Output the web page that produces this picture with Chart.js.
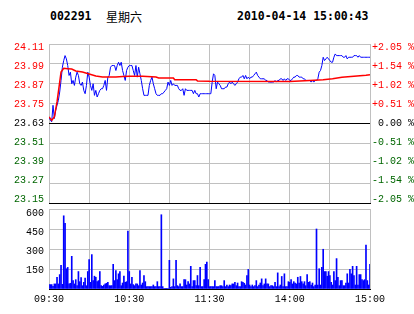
<!DOCTYPE html>
<html>
<head>
<meta charset="utf-8">
<script src="https://cdn.jsdelivr.net/npm/chart.js@4.4.1/dist/chart.umd.min.js"></script>
<style>
  body { margin: 0; background: #fff; }
  #wrap { position: relative; width: 414px; height: 314px; overflow: hidden; background: #fff; }
  canvas { position: absolute; left: 0; }
  .hd { position: absolute; top: 9px; line-height: 14px; font: bold 11.5px "DejaVu Sans Mono", monospace; color: #000; white-space: pre; }
  .day { position: absolute; top: 8px; left: 106px; line-height: 14px; font: 12px "Noto Sans CJK SC", sans-serif; color: #000; }
</style>
</head>
<body>
<div id="wrap">
  <div class="hd" style="left:50px">002291</div>
  <div class="day">星期六</div>
  <div class="hd" style="left:237px">2010-04-14 15:00:43</div>
  <canvas id="price" width="414" height="210" style="top:0"></canvas>
  <canvas id="vol" width="414" height="110" style="top:204px"></canvas>
</div>
<script>
// Data (minutes from 09:30, 0..240; 120 = 11:30/13:00)
var prevClose = 23.63;
var priceTicks = [23.15, 23.27, 23.39, 23.51, 23.63, 23.75, 23.87, 23.99, 24.11];
var pctLabels = ['-2.05 %', '-1.54 %', '-1.02 %', '-0.51 %', ' 0.00 %', '+0.51 %', '+1.02 %', '+1.54 %', '+2.05 %'];
var volTicks = [0, 150, 300, 450, 600];
var timeGridMinutes = [0, 30, 60, 90, 120, 150, 180, 210, 240];
var timeTickMinutes = [0, 60, 120, 180, 240];
var timeTickLabels = ['09:30', '10:30', '11:30', '14:00', '15:00'];

var prices = [
    23.67, 23.65, 23.64, 23.74, 23.66, 23.71, 23.74, 23.77, 23.82, 23.89,
    23.97, 24.01, 24.04, 24.02, 23.98, 23.92, 23.94, 23.87, 23.89, 23.86,
    23.91, 23.94, 23.92, 23.87, 23.86, 23.88, 23.83, 23.81, 23.86, 23.94,
    23.91, 23.86, 23.83, 23.87, 23.80, 23.83, 23.79, 23.81, 23.83, 23.84,
    23.84, 23.86, 23.89, 23.83, 23.91, 23.92, 23.97, 23.98, 23.98, 23.98,
    23.95, 23.98, 24.00, 23.98, 24.00, 23.95, 23.92, 23.89, 23.95, 23.97,
    23.98, 23.98, 23.98, 23.95, 23.92, 23.98, 23.91, 23.97, 23.93, 23.89,
    23.84, 23.80, 23.80, 23.80, 23.80, 23.86, 23.89, 23.91, 23.87, 23.84,
    23.81, 23.80, 23.80, 23.80, 23.81, 23.81, 23.82, 23.83, 23.84, 23.88,
    23.86, 23.89, 23.86, 23.87, 23.86, 23.86, 23.86, 23.84, 23.83, 23.83,
    23.84, 23.80, 23.84, 23.83, 23.83, 23.83, 23.83, 23.83, 23.81, 23.83,
    23.81, 23.81, 23.79, 23.81, 23.81, 23.81, 23.81, 23.81, 23.81, 23.81,
    23.81, 23.81, 23.88, 23.93, 23.92, 23.84, 23.88, 23.87, 23.86, 23.84,
    23.84, 23.84, 23.85, 23.85, 23.87, 23.88, 23.87, 23.88, 23.87, 23.86,
    23.87, 23.88, 23.90, 23.91, 23.91, 23.92, 23.90, 23.92, 23.90, 23.91,
    23.90, 23.91, 23.91, 23.92, 23.93, 23.94, 23.92, 23.91, 23.90, 23.90,
    23.90, 23.90, 23.89, 23.89, 23.88, 23.88, 23.88, 23.88, 23.88, 23.89,
    23.88, 23.89, 23.89, 23.90, 23.90, 23.89, 23.90, 23.89, 23.90, 23.90,
    23.89, 23.89, 23.90, 23.91, 23.91, 23.92, 23.92, 23.91, 23.91, 23.91,
    23.90, 23.90, 23.89, 23.89, 23.89, 23.89, 23.88, 23.89, 23.88, 23.89,
    23.89, 23.90, 23.94, 23.95, 23.98, 24.03, 24.01, 24.02, 24.03, 24.02,
    24.01, 24.00, 24.00, 24.03, 24.05, 24.04, 24.04, 24.04, 24.04, 24.04,
    24.03, 24.03, 24.04, 24.02, 24.03, 24.03, 24.03, 24.03, 24.04, 24.04,
    24.04, 24.03, 24.04, 24.03, 24.03, 24.03, 24.03, 24.03, 24.03, 24.03, 24.03
];

var avgMinutes = [0, 2, 4, 6, 8, 9, 11, 14, 17, 20, 25, 30, 35, 40, 50, 55, 60, 70, 80, 82, 93, 94, 110, 111, 120, 180, 195, 205, 212, 219, 228, 237, 240];
var avgPrices = [23.67, 23.65, 23.67, 23.76, 23.88, 23.94, 23.963, 23.961, 23.959, 23.947, 23.941, 23.929, 23.917, 23.911, 23.911, 23.914, 23.915, 23.915, 23.911, 23.905, 23.905, 23.894, 23.894, 23.887, 23.885, 23.884, 23.89, 23.894, 23.90, 23.909, 23.915, 23.921, 23.925];

var volumes = [
    33, 33, 33, 20, 38, 38, 88, 38, 108, 177,
    35, 549, 493, 152, 162, 38, 43, 245, 63, 38,
    70, 25, 131, 55, 86, 25, 50, 81, 25, 131,
    220, 50, 258, 63, 96, 88, 55, 63, 131, 25,
    20, 30, 38, 43, 50, 25, 25, 25, 185, 63,
    139, 70, 114, 131, 25, 45, 96, 50, 55, 435,
    131, 38, 88, 33, 25, 38, 38, 25, 139, 30,
    45, 101, 55, 18, 18, 18, 18, 18, 30, 18,
    18, 55, 18, 18, 557, 18, 5, 5, 5, 5,
    215, 13, 18, 76, 18, 215, 25, 18, 38, 18,
    18, 70, 70, 30, 55, 38, 170, 18, 63, 63,
    25, 101, 25, 162, 18, 18, 70, 185, 202, 70,
    18, 18, 18, 18, 63, 18, 18, 18, 25, 25,
    18, 63, 18, 30, 18, 30, 25, 38, 38, 50,
    25, 45, 18, 18, 55, 50, 43, 30, 101, 147,
    30, 18, 30, 18, 25, 63, 18, 30, 45, 76,
    25, 38, 76, 38, 38, 18, 25, 25, 18, 50,
    18, 121, 18, 30, 94, 18, 114, 18, 18, 55,
    50, 70, 38, 55, 45, 38, 88, 45, 94, 55,
    38, 55, 25, 108, 50, 55, 30, 45, 18, 30,
    450, 30, 152, 30, 162, 298, 131, 131, 96, 131,
    101, 50, 30, 131, 63, 228, 88, 25, 63, 63,
    25, 25, 45, 114, 45, 147, 114, 170, 101, 30,
    170, 30, 108, 108, 70, 63, 70, 329, 63, 30, 185
];

var minutes = prices.map(function (p, i) { return i; });

var gridGray = '#c0c0c0';
var tickFont = { family: '"Liberation Mono", "Courier New", monospace', size: 10 };

function priceColor(v) {
    if (v > prevClose) return '#ff0000';
    if (v < prevClose) return '#006600';
    return '#000000';
}

// Remove label overhang so the plot area sits where the padding says
function noVPad(s) { s.paddingTop = 0; s.paddingBottom = 0; }
function noHPad(s) { s.paddingLeft = 0; s.paddingRight = 0; }

function setTicks(list) {
    return function (s) { s.ticks = list.map(function (v) { return { value: v }; }); };
}

// Price chart
// y / yv carry the grid; yl / yr only carry labels, on a slightly wider range
// so the end labels sit inside the plot like in the original
new Chart(document.getElementById('price').getContext('2d'), {
    type: 'line',
    data: {
        datasets: [
            {
                data: avgMinutes.map(function (m, i) { return { x: m, y: avgPrices[i] }; }),
                borderColor: '#ff0000',
                borderWidth: 1.5,
                pointRadius: 0,
                yAxisID: 'y'
            },
            {
                data: minutes.map(function (m, i) { return { x: m, y: prices[i] }; }),
                borderColor: '#0000ff',
                borderWidth: 1,
                pointRadius: 0,
                yAxisID: 'y'
            }
        ]
    },
    options: {
        responsive: false,
        animation: false,
        devicePixelRatio: 1,
        layout: { padding: { top: 44, bottom: 7, left: 0, right: 0 } },
        plugins: { legend: { display: false }, tooltip: { enabled: false } },
        scales: {
            x: {
                type: 'linear', min: 0, max: 240,
                afterBuildTicks: setTicks(timeGridMinutes),
                ticks: { display: false },
                grid: {
                    display: true, drawOnChartArea: true, drawTicks: false, lineWidth: 1,
                    color: function () { return gridGray; }
                },
                border: { display: true, color: '#000000', width: 1 },
                afterFit: function (s) { s.height = 0; noHPad(s); }
            },
            y: {
                position: 'left', min: 23.15, max: 24.11,
                afterBuildTicks: setTicks(priceTicks),
                ticks: { display: false },
                grid: {
                    drawTicks: false,
                    color: function (c) { return (c.tick.value === prevClose || c.index === 0) ? '#000000' : gridGray; }
                },
                border: { display: false },
                afterFit: function (s) { s.width = 0; noVPad(s); }
            },
            yl: {
                position: 'left', min: 23.13, max: 24.13,
                afterBuildTicks: setTicks(priceTicks),
                ticks: {
                    font: tickFont, padding: 5,
                    color: function (c) { return priceColor(c.tick.value); },
                    callback: function (v) { return v.toFixed(2); }
                },
                grid: { display: false, drawTicks: false },
                border: { display: false },
                afterFit: function (s) { s.width = 49; noVPad(s); }
            },
            yr: {
                position: 'right', min: 23.13, max: 24.13,
                afterBuildTicks: setTicks(priceTicks),
                ticks: {
                    font: tickFont, padding: 2,
                    color: function (c) { return priceColor(c.tick.value); },
                    callback: function (v, i) { return pctLabels[i]; }
                },
                grid: { display: false, drawTicks: false },
                border: { display: false },
                afterFit: function (s) { s.width = 44; noVPad(s); }
            }
        }
    }
});

// Volume chart
new Chart(document.getElementById('vol').getContext('2d'), {
    type: 'bar',
    data: {
        datasets: [{
            data: minutes.map(function (m, i) { return { x: m, y: volumes[i] }; }),
            backgroundColor: '#0000ff',
            barThickness: 1
        }]
    },
    options: {
        responsive: false,
        animation: false,
        devicePixelRatio: 1,
        layout: { padding: { top: 5, bottom: 0, left: 0, right: 44 } },
        plugins: { legend: { display: false }, tooltip: { enabled: false } },
        scales: {
            x: {
                type: 'linear', min: 0, max: 240, offset: false,
                afterBuildTicks: setTicks(timeGridMinutes),
                ticks: {
                    autoSkip: false, maxRotation: 0, padding: 4,
                    font: tickFont, color: '#000000',
                    callback: function (v) {
                        var k = timeTickMinutes.indexOf(v);
                        return k >= 0 ? timeTickLabels[k] : '';
                    }
                },
                grid: {
                    display: true, drawOnChartArea: true, drawTicks: false, lineWidth: 1, offset: false,
                    color: function () { return gridGray; }
                },
                border: { display: true, color: '#000000', width: 1 },
                afterFit: function (s) { s.height = 25; noHPad(s); }
            },
            y: {
                min: 0, max: 600,
                afterBuildTicks: setTicks(volTicks),
                ticks: { display: false },
                grid: {
                    drawTicks: false,
                    color: function (c) { return c.tick.value === 0 ? '#000000' : gridGray; }
                },
                border: { display: false },
                afterFit: function (s) { s.width = 0; noVPad(s); }
            },
            yl: {
                position: 'left', min: 0, max: 634,
                afterBuildTicks: setTicks(volTicks),
                ticks: {
                    font: tickFont, padding: 5, color: '#000000',
                    callback: function (v) { return v === 0 ? '' : v; }
                },
                grid: { display: false, drawTicks: false },
                border: { display: false },
                afterFit: function (s) { s.width = 49; noVPad(s); }
            }
        }
    }
});
</script>
</body>
</html>
